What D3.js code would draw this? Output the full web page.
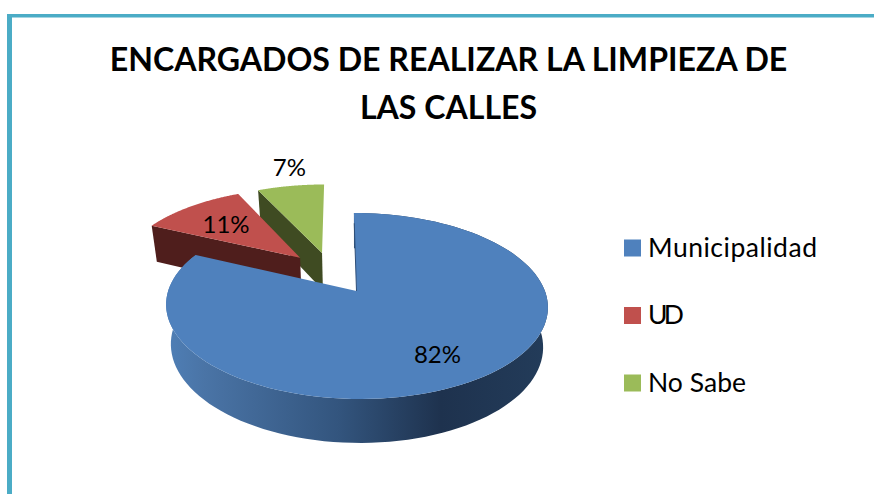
<!DOCTYPE html>
<html><head><meta charset="utf-8">
<script src="https://cdn.jsdelivr.net/npm/d3@7"></script>
<style>html,body{margin:0;padding:0;background:#fff;overflow:hidden}</style>
</head><body><svg id="c" width="874" height="494"></svg>
<script>
const titleLines = ["ENCARGADOS DE REALIZAR LA LIMPIEZA DE", "LAS CALLES"];
const categories = ["Municipalidad", "UD", "No Sabe"];
const values = [82, 11, 7];
const labels = ["82%", "11%", "7%"];
const topColors = ["#4f81bd", "#c0504d", "#9bbb59"];
const cutColors = ["#2f4f78", "#4f1e1c", "#3f4b22"];
const explode = [[0, 0], [-0.312, 0.39], [-0.189, 0.45]];
const labelRadius = [0.74, 0.68, 1.33];
const labelNudge = [[-0.02, 0], [0.02, -0.03], [0.05, 0]];
const legendWidths = [169, 36, 98];
const font = "Lato, Carlito, Calibri, sans-serif";

const svg = d3.select("#c");
// frame
svg.append("rect").attr("x", 7).attr("y", 14).attr("width", 5).attr("height", 480).attr("fill", "#4bacc6");
svg.append("rect").attr("x", 7).attr("y", 14).attr("width", 867).attr("height", 3.5).attr("fill", "#4bacc6");

// perspective projection of the pie plane
const ox = 356.5, oy = 291, a = 188.4, b = 90.6, p = 0.161, shear = 3;
const proj = (X, Y) => { const w = 1 + p * Y; return [ox + (a * X - shear * Y) / w, oy - b * Y / w]; };
const lower = ([x, y]) => [ox + (x - ox) * 0.975, y + 36 + (y - 226) * 0.046];
const rim = (t, e, r = 1) => proj(e[0] + r * Math.sin(t), e[1] + r * Math.cos(t));

const arcs = d3.pie().sort(null).value(d => d)(values);
const line = d3.line();
const steps = (s, e) => d3.range(0, 121).map(i => s + (e - s) * i / 120);

const defs = svg.append("defs");
const grad = defs.append("linearGradient").attr("id", "side").attr("gradientUnits", "userSpaceOnUse")
  .attr("x1", 166).attr("x2", 548).attr("y1", 0).attr("y2", 0);
[[0, "#4f7fb6"], [0.1, "#4a74a6"], [0.45, "#33557e"], [0.72, "#1e324e"], [1, "#233c5a"]]
  .forEach(([o, c]) => grad.append("stop").attr("offset", o).attr("stop-color", c));

// cut faces of the two small slices, back to front
[2, 1].forEach(i => {
  const d = arcs[i], e = explode[i];
  const apex = proj(e[0], e[1]);
  const t0 = rim(d.startAngle, e);
  svg.append("path").attr("fill", cutColors[i])
    .attr("d", line([t0, apex, lower(apex), lower(t0)]) + "Z");
  svg.append("path").attr("fill", topColors[i])
    .attr("d", line([apex, ...steps(d.startAngle, d.endAngle).map(t => rim(t, e))]) + "Z");
});

// big slice: outer wall, then top
const big = arcs[0], e0 = explode[0];
const arcPts = steps(big.startAngle, big.endAngle).map(t => rim(t, e0));
svg.append("path").attr("fill", "url(#side)")
  .attr("d", line([...arcPts, ...arcPts.map(lower).reverse()]) + "Z");
svg.append("path").attr("fill", topColors[0])
  .attr("d", line([proj(e0[0], e0[1]), ...arcPts]) + "Z");
svg.append("path").attr("fill", "none").attr("stroke", cutColors[0]).attr("stroke-width", 1)
  .attr("d", line([proj(0, 0.85), proj(0, 0)]));

// title
svg.append("g").selectAll("text").data(titleLines).join("text")
  .attr("x", 448.5).attr("y", (d, i) => 71 + i * 48)
  .attr("text-anchor", "middle").attr("font-family", font).attr("font-weight", 700)
  .attr("font-size", 32.1).attr("fill", "#000").text(d => d);

// data labels
svg.append("g").selectAll("text").data(arcs).join("text")
  .attr("transform", (d, i) => {
    const mid = (d.startAngle + d.endAngle) / 2;
    const e = [explode[i][0] + labelNudge[i][0], explode[i][1] + labelNudge[i][1]];
    return `translate(${rim(mid, e, labelRadius[i])})`;
  })
  .attr("text-anchor", "middle").attr("dy", "0.36em").attr("font-family", font)
  .attr("font-size", 24).attr("fill", "#000").text((d, i) => labels[i]);

// legend
const ly = d3.scalePoint().domain(categories).range([247, 382]);
const lg = svg.append("g").selectAll("g").data(categories).join("g")
  .attr("transform", d => `translate(0,${ly(d)})`);
lg.append("rect").attr("x", 624).attr("y", -7.5).attr("width", 17).attr("height", 17)
  .attr("fill", (d, i) => topColors[i]);
lg.append("text").attr("x", 648).attr("dy", "0.36em").attr("font-family", font)
  .attr("font-size", 26.5).attr("fill", "#000")
  .attr("textLength", (d, i) => legendWidths[i]).attr("lengthAdjust", "spacing").text(d => d);
</script></body></html>
